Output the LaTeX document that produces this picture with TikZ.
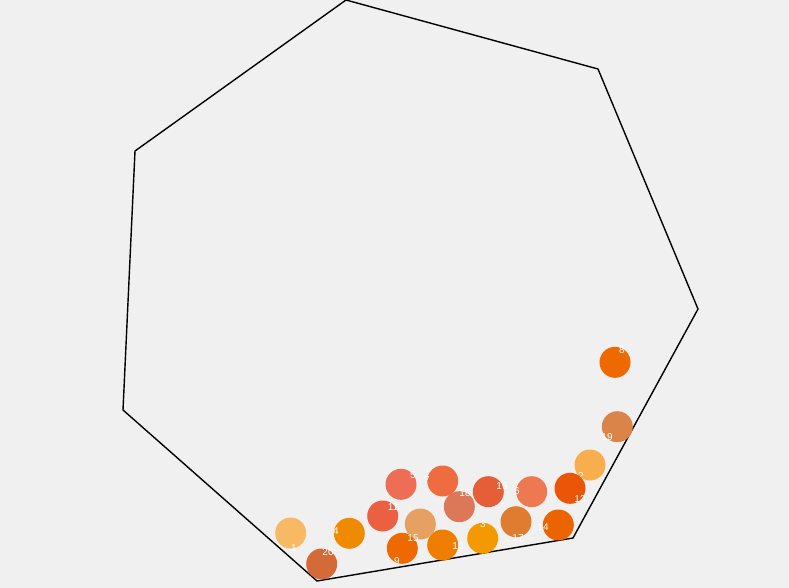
\documentclass[tikz,border=0pt]{standalone}
\usepackage{fontspec}
\setmainfont{Liberation Sans}
\definecolor{bg}{HTML}{F0F0F0}
\definecolor{c1}{HTML}{F8B964}
\definecolor{c3}{HTML}{F49A00}
\definecolor{c4}{HTML}{F08A00}
\definecolor{c5}{HTML}{EE6E55}
\definecolor{c6}{HTML}{EE7850}
\definecolor{c7}{HTML}{EE6C40}
\definecolor{c8}{HTML}{EE6A00}
\definecolor{c9}{HTML}{EE6A00}
\definecolor{c10}{HTML}{EE7D00}
\definecolor{c11}{HTML}{EA6040}
\definecolor{c12}{HTML}{F8AE4C}
\definecolor{c13}{HTML}{EA5508}
\definecolor{c14}{HTML}{EC6400}
\definecolor{c15}{HTML}{E6A062}
\definecolor{c16}{HTML}{E55E38}
\definecolor{c17}{HTML}{E07C30}
\definecolor{c18}{HTML}{DC7858}
\definecolor{c19}{HTML}{DA844A}
\definecolor{c20}{HTML}{D46A38}
\tikzset{
  ball/.style={circle, minimum size=31pt, inner sep=0pt, draw=none},
  lbl/.style={text=white, font=\fontsize{10}{12}\selectfont, inner sep=0pt},
  wall/.style={draw=black, line width=1.4pt, line join=miter}
}
\begin{document}
\begin{tikzpicture}[x=1pt,y=-1pt]
\fill[bg] (0,0) rectangle (789,588);
\useasboundingbox (0,0) rectangle (789,588);
\coordinate (p1) at (346,0);
\coordinate (p2) at (598,69);
\coordinate (p3) at (698,309);
\coordinate (p4) at (573,538);
\coordinate (p5) at (317,581);
\coordinate (p6) at (123,410);
\coordinate (p7) at (135,151);
\draw[wall] (p1) -- (p2) -- (p3) -- (p4) -- (p5) -- (p6) -- (p7) -- cycle;
\node[ball, fill=c1] (b1) at (290.7,533) {};
\node[lbl] (l1) at (294,548) {1};
\node[ball, fill=c3] (b3) at (482.7,538.3) {};
\node[lbl] (l3) at (483,524) {3};
\node[ball, fill=c4] (b4) at (349.3,533.3) {};
\node[lbl] (l4) at (336,531) {4};
\node[ball, fill=c5] (b5) at (401,484.3) {};
\node[lbl] (l5) at (413,475) {5};
\node[ball, fill=c6] (b6) at (531.7,491.7) {};
\node[lbl] (l6) at (517,491) {6};
\node[ball, fill=c7] (b7) at (442.7,481) {};
\node[lbl] (l7) at (427,480) {7};
\node[ball, fill=c8] (b8) at (615,362.3) {};
\node[lbl] (l8) at (622,350) {8};
\node[ball, fill=c9] (b9) at (402.3,548.3) {};
\node[lbl] (l9) at (397,561) {9};
\node[ball, fill=c10] (b10) at (442.7,545) {};
\node[lbl] (l10) at (458,546) {10};
\node[ball, fill=c11] (b11) at (382.7,516) {};
\node[lbl] (l11) at (393,507) {11};
\node[ball, fill=c12] (b12) at (590,465) {};
\node[lbl] (l12) at (578,476) {12};
\node[ball, fill=c13] (b13) at (570,488.3) {};
\node[lbl] (l13) at (580,499) {13};
\node[ball, fill=c14] (b14) at (558.3,525) {};
\node[lbl] (l14) at (543,527) {14};
\node[ball, fill=c15] (b15) at (420.3,524) {};
\node[lbl] (l15) at (413,538) {15};
\node[ball, fill=c16] (b16) at (488.3,491.7) {};
\node[lbl] (l16) at (502,486) {16};
\node[ball, fill=c17] (b17) at (516,521.7) {};
\node[lbl] (l17) at (518,538) {17};
\node[ball, fill=c18] (b18) at (459.3,506.7) {};
\node[lbl] (l18) at (465,493) {18};
\node[ball, fill=c19] (b19) at (617.3,426.7) {};
\node[lbl] (l19) at (607,437) {19};
\node[ball, fill=c20] (b20) at (321.7,564) {};
\node[lbl] (l20) at (328,552) {20};
\end{tikzpicture}
\end{document}
